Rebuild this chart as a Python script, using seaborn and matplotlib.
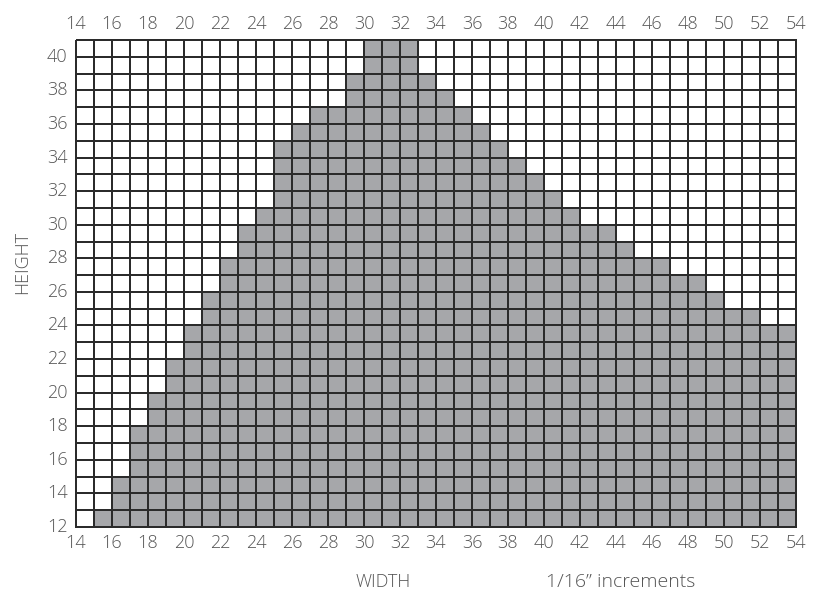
import numpy as np
import pandas as pd
import matplotlib
matplotlib.use("Agg")
import matplotlib.pyplot as plt
import seaborn as sns
from matplotlib.colors import ListedColormap

# ---- data ----
widths = list(range(14, 54))          # column lower bounds (1/16" units)
heights = [12, 13, 15, 18, 20, 22, 24, 26, 28, 30,
           31, 35, 36, 37, 37, 39, 41, 41, 41, 39,
           38, 37, 36, 35, 34, 33, 32, 31, 30, 30,
           29, 28, 28, 27, 27, 26, 25, 25, 24, 24]
height_rows = list(range(40, 11, -1))  # row lower bounds, top to bottom
x_ticks = list(range(14, 55, 2))
y_ticks = list(range(12, 41, 2))

grid = pd.DataFrame(
    [[1 if h < hc else 0 for hc in heights] for h in height_rows],
    index=height_rows, columns=widths)

sns.set_theme(style="white")
plt.rcParams['font.family'] = ['Open Sans', 'DejaVu Sans']

fig = plt.figure(figsize=(8.17, 5.92), dpi=100)
ax = fig.add_axes([76/817, 65/592, 720/817, 487/592])

sns.heatmap(grid, ax=ax, cmap=ListedColormap(['white', '#A6A7AA']),
            vmin=0, vmax=1, cbar=False, linewidths=1.2, linecolor='#2b2b2b')
ax.collections[0].set_clip_on(False)

txt = '#555555'
ax.set_xticks([w - widths[0] for w in x_ticks])
ax.set_xticklabels([str(w) for w in x_ticks], rotation=0)
top = height_rows[0] + 1
ax.set_yticks([top - h for h in y_ticks])
ax.set_yticklabels([str(h) for h in y_ticks], rotation=0)
ax.tick_params(axis='both', length=0, labelsize=13, labelcolor=txt)
ax.tick_params(axis='x', top=True, labeltop=True, bottom=True, labelbottom=True, pad=5)
ax.tick_params(axis='y', pad=6)
for lab in ax.get_xticklabels() + ax.get_yticklabels():
    lab.set_fontweight('light')

ax.set_xlabel('')
ax.set_ylabel('')
fig.text(383/817, 1 - 582/592, 'WIDTH', ha='center', va='center',
         fontsize=13, color=txt, fontweight='light')
fig.text(621/817, 1 - 582/592, '1/16\u201d increments', ha='center', va='center',
         fontsize=14, color=txt, fontweight='light')
fig.text(22/817, 1 - 263/592, 'HEIGHT', ha='center', va='center', rotation=90,
         fontsize=13, color=txt, fontweight='light')

fig.savefig('out.png', dpi=100, facecolor='white')
